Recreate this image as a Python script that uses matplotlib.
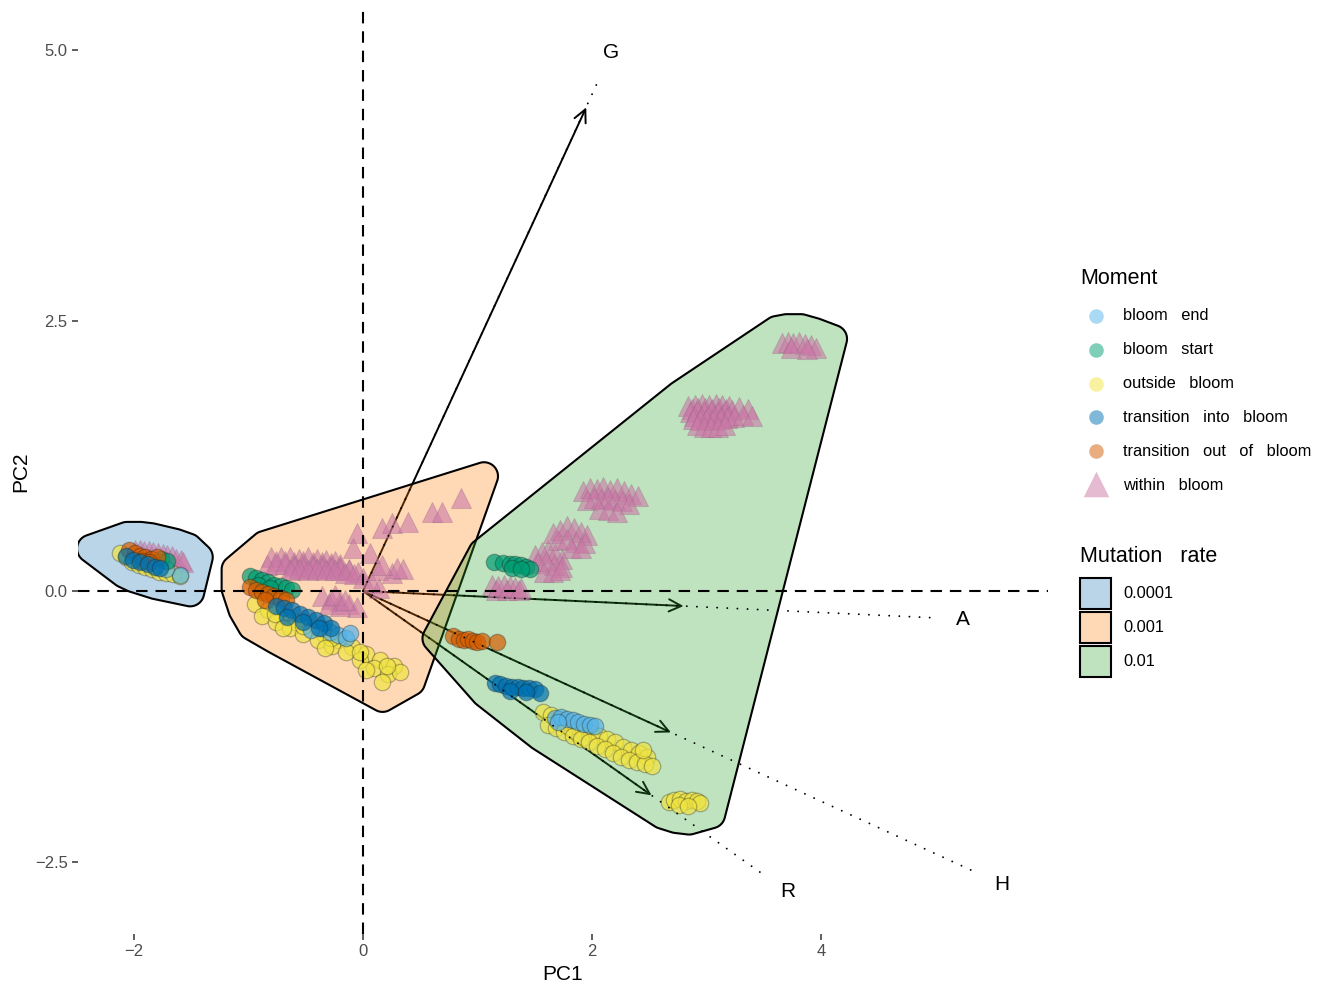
import numpy as np
import matplotlib
matplotlib.use('Agg')
import matplotlib.pyplot as plt
from matplotlib.patches import Polygon, Rectangle
from matplotlib.colors import to_rgba

plt.rcParams['font.family'] = ['Liberation Sans', 'DejaVu Sans']

moments = ['bloom end', 'bloom start', 'outside bloom',
           'transition into bloom', 'transition out of bloom', 'within bloom']
moment_colors = ['#56B4E9', '#009E73', '#F0E442', '#0072B2', '#D55E00', '#CC79A7']
rates = ['0.0001', '0.001', '0.01']
rate_colors = ['#1F77B4', '#FF7F0E', '#2CA02C']

# PCA scores, mutation rate 0.0001
r4_end_x = [-1.60, -1.72]
r4_end_y = [0.15, 0.20]
r4_start_x = [-1.76, -1.71]
r4_start_y = [0.30, 0.28]
r4_out_x = [-2.12, -2.07, -2.02, -1.96, -1.90, -1.84, -1.78, -1.72, -1.66, -1.60]
r4_out_y = [0.35, 0.31, 0.27, 0.24, 0.22, 0.20, 0.18, 0.17, 0.16, 0.14]
r4_into_x = [-2.07, -2.01, -1.95, -1.88, -1.82, -1.77]
r4_into_y = [0.32, 0.29, 0.27, 0.25, 0.22, 0.21]
r4_outof_x = [-2.04, -1.99, -1.95, -1.90, -1.85, -1.80, -1.93, -1.87]
r4_outof_y = [0.38, 0.35, 0.32, 0.31, 0.30, 0.31, 0.28, 0.27]
r4_within_x = [-1.99, -1.95, -1.91, -1.87, -1.83, -1.79, -1.75, -1.71, -1.67, -1.63, -1.59, -1.57]
r4_within_y = [0.38, 0.38, 0.37, 0.37, 0.36, 0.35, 0.34, 0.33, 0.32, 0.30, 0.29, 0.27]

# PCA scores, mutation rate 0.001
r3_end_x = [-0.36, -0.29, -0.22, -0.15, -0.11, -0.45]
r3_end_y = [-0.34, -0.38, -0.41, -0.43, -0.39, -0.36]
r3_start_x = [-0.99, -0.93, -0.88, -0.83, -0.78, -0.72, -0.67, -0.62, -0.92, -0.81]
r3_start_y = [0.14, 0.12, 0.10, 0.08, 0.06, 0.05, 0.03, 0.01, 0.06, 0.03]
r3_out_x = [-0.94, -0.83, -0.71, -0.59, -0.46, -0.34, -0.22, -0.10, 0.03, 0.15, 0.27,
            -0.88, -0.76, -0.64, -0.52, -0.39, -0.27, -0.15, -0.03, 0.10, 0.22, 0.32,
            -0.77, -0.52, -0.28, -0.03, 0.21, -0.70, -0.33, 0.03, 0.17]
r3_out_y = [-0.12, -0.18, -0.23, -0.29, -0.34, -0.40, -0.45, -0.52, -0.58, -0.64, -0.69,
            -0.23, -0.29, -0.34, -0.40, -0.45, -0.51, -0.56, -0.64, -0.71, -0.77, -0.75,
            -0.21, -0.32, -0.43, -0.56, -0.69, -0.34, -0.53, -0.73, -0.84]
r3_into_x = [-0.76, -0.69, -0.62, -0.55, -0.48, -0.41, -0.34, -0.28, -0.66, -0.52, -0.38]
r3_into_y = [-0.14, -0.16, -0.18, -0.21, -0.24, -0.27, -0.30, -0.34, -0.24, -0.29, -0.34]
r3_outof_x = [-0.99, -0.93, -0.88, -0.83, -0.78, -0.72, -0.67, -0.86]
r3_outof_y = [0.04, 0.01, -0.01, -0.03, -0.05, -0.06, -0.08, -0.08]
r3_within_x = [-0.80, -0.72, -0.64, -0.56, -0.48, -0.40, -0.32, -0.24,
               -0.76, -0.68, -0.60, -0.52, -0.44, -0.36, -0.28, -0.20,
               -0.84, -0.76, -0.68, -0.60, -0.52, -0.44, -0.36, -0.28, -0.20, -0.12,
               -0.60, -0.52, -0.44, -0.36, -0.28, -0.20, -0.12, -0.04,
               -0.64, -0.56, -0.48, -0.40, -0.32, -0.24, -0.16, -0.08, 0.00, 0.08, 0.14,
               -0.36, -0.28, -0.20, -0.12, -0.05, -0.30, -0.20, -0.24, -0.16,
               0.13, 0.25, 0.35,
               -0.05, 0.17, 0.25, 0.39, 0.60, 0.69, 0.86, 0.30, 0.17, 0.06, -0.09]
r3_within_y = [0.31, 0.31, 0.31, 0.30, 0.31, 0.30, 0.29, 0.28,
               0.28, 0.28, 0.27, 0.28, 0.27, 0.27, 0.26, 0.25,
               0.24, 0.25, 0.25, 0.24, 0.25, 0.24, 0.24, 0.23, 0.22, 0.20,
               0.22, 0.21, 0.22, 0.21, 0.21, 0.20, 0.19, 0.18,
               0.19, 0.20, 0.19, 0.20, 0.19, 0.19, 0.17, 0.16, 0.12, 0.07, 0.03,
               -0.05, -0.07, -0.09, -0.12, -0.15, -0.12, -0.14, -0.04, -0.08,
               0.19, 0.17, 0.20,
               0.54, 0.58, 0.63, 0.64, 0.73, 0.73, 0.86, 0.21, 0.24, 0.35, 0.40]

# PCA scores, mutation rate 0.01
r2_end_x = [1.68, 1.73, 1.78, 1.83, 1.88, 1.93, 1.98, 2.03, 1.70]
r2_end_y = [-1.17, -1.16, -1.18, -1.19, -1.21, -1.23, -1.24, -1.25, -1.21]
r2_start_x = [1.14, 1.22, 1.28, 1.33, 1.38, 1.42, 1.46, 1.30, 1.38]
r2_start_y = [0.27, 0.26, 0.25, 0.25, 0.24, 0.22, 0.20, 0.21, 0.20]
r2_out_x = [1.57, 1.64, 1.71, 1.78, 1.85, 1.92, 1.99, 2.06, 2.13, 2.20, 2.27, 2.34, 2.41, 2.48,
            1.62, 1.69, 1.76, 1.83, 1.90, 1.97, 2.04, 2.11, 2.18, 2.25, 2.32, 2.39, 2.46, 2.52,
            2.45,
            2.67, 2.72, 2.77, 2.82, 2.87, 2.92, 2.94, 2.76, 2.84]
r2_out_y = [-1.12, -1.15, -1.18, -1.21, -1.25, -1.28, -1.31, -1.34, -1.37, -1.40, -1.44, -1.47, -1.50, -1.53,
            -1.24, -1.27, -1.30, -1.34, -1.37, -1.40, -1.43, -1.46, -1.50, -1.53, -1.56, -1.58, -1.60, -1.62,
            -1.47,
            -1.95, -1.93, -1.92, -1.94, -1.93, -1.94, -1.96, -1.98, -1.99]
r2_into_x = [1.15, 1.20, 1.25, 1.30, 1.35, 1.40, 1.45, 1.50, 1.55, 1.28, 1.42]
r2_into_y = [-0.85, -0.86, -0.88, -0.89, -0.89, -0.90, -0.90, -0.91, -0.94, -0.92, -0.93]
r2_outof_x = [0.79, 0.84, 0.88, 0.92, 0.96, 1.00, 1.04, 1.17]
r2_outof_y = [-0.42, -0.44, -0.45, -0.44, -0.46, -0.47, -0.46, -0.47]
r2_within_x = [1.13, 1.18, 1.23, 1.28, 1.33, 1.38, 1.16, 1.26, 1.36,
               1.50, 1.56, 1.62, 1.68, 1.74, 1.53, 1.60, 1.67, 1.74, 1.58, 1.66, 1.72,
               1.66, 1.72, 1.78, 1.84, 1.90, 1.96, 1.70, 1.78, 1.86, 1.94, 1.82, 1.90,
               1.92, 1.98, 2.04, 2.10, 2.16, 2.22, 2.28, 2.34, 2.40,
               1.96, 2.02, 2.08, 2.14, 2.20, 2.26, 2.32, 2.06, 2.14, 2.22,
               2.84, 2.90, 2.96, 3.02, 3.08, 3.14, 3.20,
               2.87, 2.93, 2.99, 3.05, 3.11, 3.17,
               2.86, 2.92, 2.98, 3.04, 3.10, 3.16, 3.22, 3.28, 3.36,
               2.89, 2.95, 3.01, 3.07, 3.13, 3.19,
               2.88, 2.94, 3.00, 3.06, 3.12, 3.18, 3.24, 3.32, 3.40,
               2.92, 2.98, 3.04, 3.10, 3.16,
               3.66, 3.71, 3.76, 3.81, 3.86, 3.91, 3.96, 3.74, 3.88]
r2_within_y = [0.06, 0.05, 0.06, 0.05, 0.04, 0.03, 0.01, 0.01, 0.01,
               0.33, 0.36, 0.38, 0.34, 0.30, 0.26, 0.28, 0.24, 0.22, 0.18, 0.18, 0.19,
               0.54, 0.56, 0.60, 0.58, 0.55, 0.52, 0.47, 0.48, 0.45, 0.44, 0.40, 0.40,
               0.92, 0.95, 0.94, 0.96, 0.93, 0.95, 0.92, 0.90, 0.88,
               0.84, 0.86, 0.85, 0.86, 0.84, 0.83, 0.80, 0.76, 0.75, 0.73,
               1.71, 1.72, 1.73, 1.72, 1.73, 1.72, 1.71,
               1.68, 1.69, 1.69, 1.68, 1.69, 1.68,
               1.65, 1.66, 1.65, 1.66, 1.65, 1.66, 1.67, 1.70, 1.68,
               1.62, 1.61, 1.62, 1.62, 1.61, 1.62,
               1.59, 1.58, 1.59, 1.58, 1.59, 1.60, 1.61, 1.63, 1.62,
               1.53, 1.52, 1.52, 1.52, 1.53,
               2.29, 2.30, 2.29, 2.30, 2.28, 2.27, 2.25, 2.25, 2.24]

# variable loadings: arrow tips and label positions
var_names = ['G', 'A', 'H', 'R']
arrow_x = [1.95, 2.80, 2.69, 2.52]
arrow_y = [4.47, -0.139, -1.307, -1.888]
label_x = [2.17, 5.24, 5.58, 3.71]
label_y = [4.98, -0.26, -2.71, -2.78]

scores = {
    '0.0001': [(r4_end_x, r4_end_y), (r4_start_x, r4_start_y), (r4_out_x, r4_out_y),
               (r4_into_x, r4_into_y), (r4_outof_x, r4_outof_y), (r4_within_x, r4_within_y)],
    '0.001': [(r3_end_x, r3_end_y), (r3_start_x, r3_start_y), (r3_out_x, r3_out_y),
              (r3_into_x, r3_into_y), (r3_outof_x, r3_outof_y), (r3_within_x, r3_within_y)],
    '0.01': [(r2_end_x, r2_end_y), (r2_start_x, r2_start_y), (r2_out_x, r2_out_y),
             (r2_into_x, r2_into_y), (r2_outof_x, r2_outof_y), (r2_within_x, r2_within_y)],
}


def convex_hull(p):
    p = sorted(set(map(tuple, p)))
    if len(p) < 3:
        return np.array(p)

    def cross(o, a, b):
        return (a[0] - o[0]) * (b[1] - o[1]) - (a[1] - o[1]) * (b[0] - o[0])

    lower, upper = [], []
    for q in p:
        while len(lower) >= 2 and cross(lower[-2], lower[-1], q) <= 0:
            lower.pop()
        lower.append(q)
    for q in reversed(p):
        while len(upper) >= 2 and cross(upper[-2], upper[-1], q) <= 0:
            upper.pop()
        upper.append(q)
    return np.array(lower[:-1] + upper[:-1])


def mark_hull(disp, expand=28.0, radius=14.0):
    # expanded hull with rounded corners, in pixel space
    h = convex_hull(disp)
    d = expand - radius
    n = len(h)
    off = []
    for i in range(n):
        a, v, b = h[i - 1], h[i], h[(i + 1) % n]
        e1, e2 = v - a, b - v
        n1 = np.array([e1[1], -e1[0]]) / np.hypot(*e1)
        n2 = np.array([e2[1], -e2[0]]) / np.hypot(*e2)
        off.append(v + d * (n1 + n2) / (1 + n1 @ n2))
    t = np.linspace(0, 2 * np.pi, 48, endpoint=False)
    circ = radius * np.c_[np.cos(t), np.sin(t)]
    ring = np.concatenate([o + circ for o in off])
    return convex_hull(ring)


fig = plt.figure(figsize=(13.2, 9.84), dpi=100)
ax = fig.add_axes([78 / 1320, 1 - 934 / 984, 970 / 1320, 924 / 984])
ax.set_xlim(-2.489, 5.983)
ax.set_ylim(-3.170, 5.370)
for s in ax.spines.values():
    s.set_visible(False)

# loading arrows sit underneath the hulls
for k in range(len(var_names)):
    ax.annotate('', xy=(arrow_x[k], arrow_y[k]), xytext=(0, 0),
                arrowprops=dict(arrowstyle='->,head_length=0.45,head_width=0.22',
                                color='black', lw=1.4, shrinkA=0, shrinkB=0,
                                mutation_scale=20), zorder=1)

# hulls per mutation rate
for rate, col in zip(rates, rate_colors):
    pts = np.concatenate([np.c_[x, y] for x, y in scores[rate]])
    disp = ax.transData.transform(pts)
    outline = ax.transData.inverted().transform(mark_hull(disp))
    ax.add_patch(Polygon(outline, closed=True, facecolor=to_rgba(col, 0.3),
                         edgecolor='black', lw=1.5, zorder=2))

# points: triangles first, then circles
draw_order = [5, 2, 0, 1, 4, 3]
for rate in rates:
    for m in draw_order:
        x, y = scores[rate][m]
        if moments[m] == 'within bloom':
            ax.scatter(x, y, s=210, marker='^', facecolor=to_rgba(moment_colors[m], 0.6),
                       edgecolor=(0.55, 0.4, 0.5, 0.3), lw=0.7, zorder=3)
        else:
            ax.scatter(x, y, s=140, marker='o', facecolor=to_rgba(moment_colors[m], 0.7),
                       edgecolor=(0.1, 0.1, 0.1, 0.3), lw=0.9, zorder=4)

# dotted guides from origin towards the variable labels
for k in range(len(var_names)):
    o = ax.transData.transform((0, 0))
    l = ax.transData.transform((label_x[k], label_y[k]))
    u = (l - o) / np.hypot(*(l - o))
    ex, ey = ax.transData.inverted().transform(l - 30 * u)
    ax.plot([0, ex], [0, ey], color='black', lw=1.4, ls=(0, (0.01, 5.2)),
            dash_capstyle='round', zorder=5)
    ax.text(label_x[k], label_y[k], var_names[k], ha='center', va='center',
            fontsize=15, zorder=6)

ax.axhline(0, color='black', lw=1.5, ls=(0, (5.5, 3.8)), zorder=5)
ax.axvline(0, color='black', lw=1.5, ls=(0, (5.5, 3.8)), zorder=5)

ax.set_xticks([-2, 0, 2, 4])
ax.set_xticklabels(['\u22122', '0', '2', '4'])
ax.set_yticks([-2.5, 0, 2.5, 5.0])
ax.set_yticklabels(['\u22122.5', '0.0', '2.5', '5.0'])
ax.tick_params(direction='out', length=4.5, width=1.1, color='#333333',
               labelcolor='#4D4D4D', labelsize=12, pad=3)
ax.set_xlabel('PC1', fontsize=15, labelpad=4)
ax.set_ylabel('PC2', fontsize=15, labelpad=3)

# legends drawn on a pixel-space overlay
lax = fig.add_axes([0, 0, 1, 1], facecolor='none')
lax.set_xlim(0, 1320)
lax.set_ylim(984, 0)
lax.axis('off')

lax.text(1080, 278, 'Moment', fontsize=15.5, ha='left', va='center')
for i, (name, col) in enumerate(zip(moments, moment_colors)):
    yy = 316 + 33.8 * i
    if name == 'within bloom':
        lax.scatter([1096], [yy - 1], s=340, marker='^', color=to_rgba(col, 0.5), lw=0)
    else:
        lax.scatter([1096], [yy], s=110, marker='o', color=to_rgba(col, 0.5), lw=0)
    lax.text(1123, yy, '   '.join(name.split()), fontsize=11.8, ha='left', va='center')

lax.text(1080, 556, 'Mutation   rate', fontsize=15.5, ha='left', va='center')
for i, (name, col) in enumerate(zip(rates, rate_colors)):
    top = 578 + 34 * i
    lax.add_patch(Rectangle((1080, top), 31, 31, facecolor=to_rgba(col, 0.3),
                            edgecolor='black', lw=1.5))
    lax.text(1123, top + 15.5, name, fontsize=11.8, ha='left', va='center')

fig.savefig('out.png', dpi=100)
